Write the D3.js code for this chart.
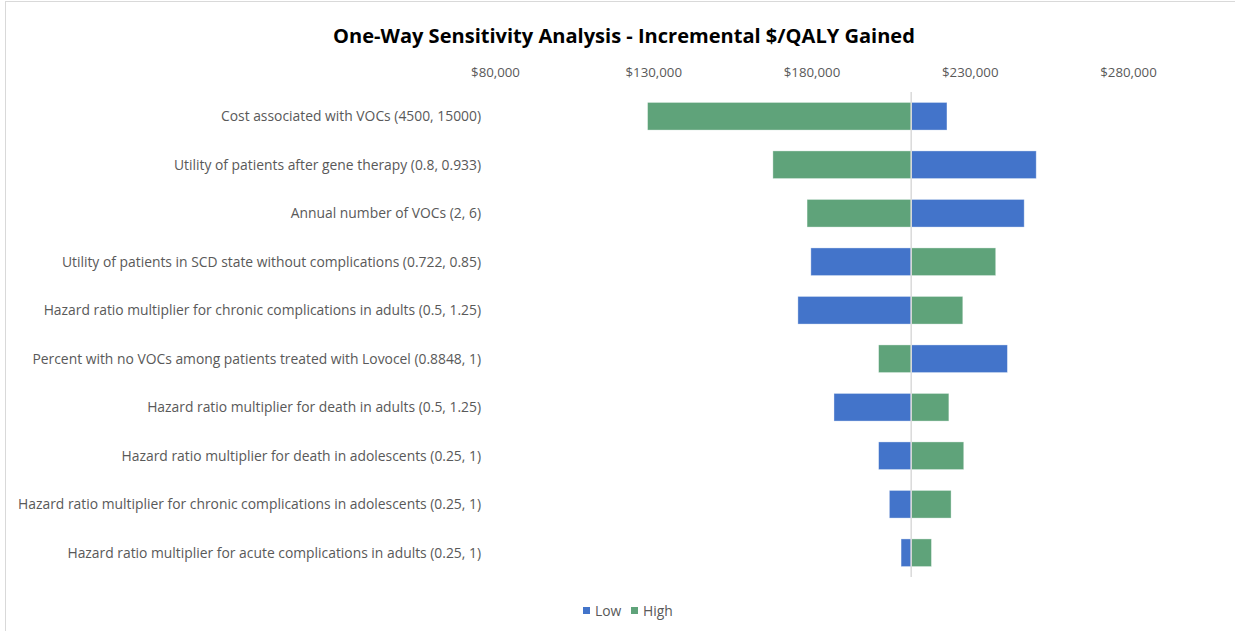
<!DOCTYPE html>
<html>
<head>
<meta charset="utf-8">
<script src="https://cdn.jsdelivr.net/npm/d3@7"></script>
<style>
  html, body { margin: 0; padding: 0; background: #fff; }
  svg { display: block; }
</style>
</head>
<body>
<div id="chart"></div>
<script>
// parameters, top to bottom
const parameters = [
  "Cost associated with VOCs (4500, 15000)",
  "Utility of patients after gene therapy (0.8, 0.933)",
  "Annual number of VOCs (2, 6)",
  "Utility of patients in SCD state without complications (0.722, 0.85)",
  "Hazard ratio multiplier for chronic complications in adults (0.5, 1.25)",
  "Percent with no VOCs among patients treated with Lovocel (0.8848, 1)",
  "Hazard ratio multiplier for death in adults (0.5, 1.25)",
  "Hazard ratio multiplier for death in adolescents (0.25, 1)",
  "Hazard ratio multiplier for chronic complications in adolescents (0.25, 1)",
  "Hazard ratio multiplier for acute complications in adults (0.25, 1)"
];
// incremental $/QALY at the low / high end of each parameter
const lowValues  = [222800, 251000, 247200, 179800, 175700, 241900, 187100, 201200, 204600, 208300];
const highValues = [128200, 167800, 178600, 238200, 227800, 201200, 223400, 228100, 224100, 217900];
const baseCase = 211500;
const tickValues = [80000, 130000, 180000, 230000, 280000];
const seriesNames = ["Low", "High"];

const width = 1235, height = 631;
const colors = {Low: "#4374CA", High: "#5FA37A"};
const textColor = "#595959";
const fontFamily = "'Open Sans', 'Noto Sans', sans-serif";

const svg = d3.select("#chart").append("svg")
    .attr("width", width)
    .attr("height", height)
    .style("font-family", fontFamily);

// chart border
svg.append("rect")
    .attr("x", 5.5).attr("y", 1.5)
    .attr("width", width).attr("height", height)
    .attr("fill", "none")
    .attr("stroke", "#d9d9d9");

// fit a text element to a target width by adjusting font size
function fitFont(sel, target) {
  const w = sel.node().getComputedTextLength();
  const fs = parseFloat(sel.attr("font-size"));
  return fs * target / w;
}

// title
const title = svg.append("text")
    .attr("x", 624).attr("y", 43)
    .attr("text-anchor", "middle")
    .attr("font-size", 20)
    .attr("font-weight", "bold")
    .attr("fill", "#000")
    .text("One-Way Sensitivity Analysis - Incremental $/QALY Gained");
title.attr("font-size", fitFont(title, 582));

// scales
const x = d3.scaleLinear()
    .domain([80000, 300000])
    .range([495, 495 + 158.25 * 4.4]);

const y = d3.scaleBand()
    .domain(parameters)
    .range([92, 577])
    .paddingInner(0.43)
    .paddingOuter(0.215);

// axis on top (labels only)
const xAxis = svg.append("g")
    .attr("transform", "translate(0,72)")
    .call(d3.axisTop(x)
      .tickValues(tickValues)
      .tickSize(0)
      .tickPadding(0)
      .tickFormat(d => "$" + d3.format(",")(d)));
xAxis.select(".domain").remove();
xAxis.selectAll("text")
    .attr("dy", "0.35em")
    .attr("fill", textColor)
    .attr("font-size", 12)
    .attr("font-family", fontFamily);
const t0 = xAxis.selectAll("text").filter(d => d === 280000);
const tickFs = fitFont(t0, 56.5);
xAxis.selectAll("text").attr("font-size", tickFs);

// category labels
const labels = svg.append("g").selectAll("text")
    .data(parameters)
    .join("text")
    .attr("x", 481)
    .attr("y", d => y(d) + y.bandwidth() / 2)
    .attr("dy", "0.35em")
    .attr("text-anchor", "end")
    .attr("fill", textColor)
    .attr("font-size", 12)
    .text(d => d);
const labelFs = fitFont(labels.filter((d, i) => i === 8), 463);
labels.attr("font-size", labelFs);

// bars
const rows = parameters.map((p, i) => [
  {param: p, series: "Low", value: lowValues[i]},
  {param: p, series: "High", value: highValues[i]}
]).flat();

svg.append("g").selectAll("rect")
    .data(rows)
    .join("rect")
    .attr("x", d => Math.min(x(d.value), x(baseCase)))
    .attr("y", d => y(d.param))
    .attr("width", d => Math.abs(x(d.value) - x(baseCase)))
    .attr("height", y.bandwidth())
    .attr("fill", d => colors[d.series])
    .attr("stroke", "rgba(255,255,255,0.45)")
    .attr("stroke-width", 0.8);

// base case line
svg.append("line")
    .attr("x1", x(baseCase)).attr("x2", x(baseCase))
    .attr("y1", 92).attr("y2", 577)
    .attr("stroke", "#d9d9d9")
    .attr("stroke-width", 1.5);

// legend
const legendX = [583, 631];
const legend = svg.append("g").selectAll("g")
    .data(seriesNames)
    .join("g")
    .attr("transform", (d, i) => `translate(${legendX[i]},607)`);
legend.append("rect")
    .attr("width", 7).attr("height", 7)
    .attr("fill", d => colors[d]);
legend.append("text")
    .attr("x", 12).attr("y", 4)
    .attr("dy", "0.35em")
    .attr("fill", textColor)
    .attr("font-size", labelFs)
    .text(d => d);
</script>
</body>
</html>
